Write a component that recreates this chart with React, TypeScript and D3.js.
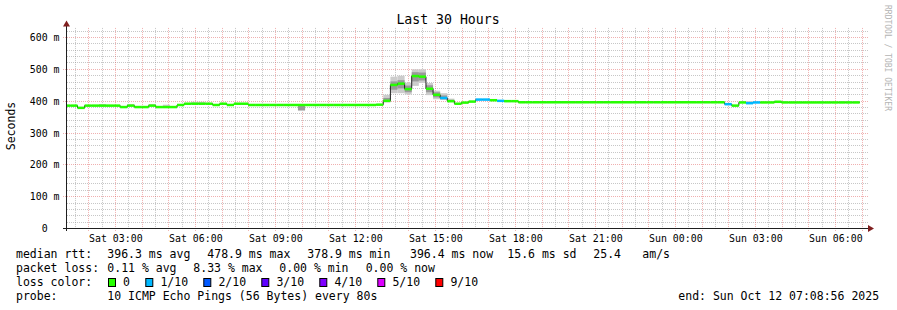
import React from "react";
import * as d3 from "d3";

const W = 897;
const H = 310;
const FONT = "'DejaVu Sans Mono', monospace";

// time frame
const startTime = new Date(2025, 9, 11, 1, 8, 56);
const endTime = new Date(2025, 9, 12, 7, 8, 56);
const stepStart = new Date(2025, 9, 11, 1, 2, 50);
const stepMinutes = 16;

// y axis
const yMax = 630;
const yMajorTicks = [0, 100, 200, 300, 400, 500, 600];
const yTickLabels = ["0  ", "100 m", "200 m", "300 m", "400 m", "500 m", "600 m"];

// median rtt per 16-minute step (ms)
const median = [
  386, 386, 379, 386, 386, 386, 386, 386, 381.5, 386,
  381.5, 381.5, 386, 381.5, 381.5, 381.5, 388, 392, 392, 392,
  392, 388, 392, 388, 392, 392, 388, 388, 388, 388,
  388, 388, 388, 388, 388, 388, 388, 388, 388, 388,
  388, 388, 388, 388, 389, 401, 451, 455, 438, 478.9,
  477, 439, 420, 410, 400, 392, 395.5, 398.7, 405, 405,
  403, 401, 400, 400, 396.5, 396.5, 396.5, 396.5, 396.5, 396.5,
  396.5, 396.5, 396.5, 396.5, 396.5, 396.5, 396.5, 396.5, 396.5, 396.5,
  396.5, 396.5, 396.5, 396.5, 396.5, 396.5, 396.5, 396.5, 396.5, 396.5,
  396.5, 396.5, 396.5, 390.5, 386, 396, 393.7, 396, 396, 396,
  398, 396, 396, 396, 396, 396, 396, 396, 396, 396,
  396, 396,
];

// packet loss (in tenths) for the steps that had loss
const lossSteps = [53, 58, 59, 61, 93, 96, 97];
const lossLevels = [1, 1, 1, 1, 1, 1, 1];

// smoke (ping spread) for steps where it is visible
const smokeSteps = [5, 9, 12, 14, 18, 19, 33, 45, 46, 47, 48, 49, 50, 51, 52, 53, 54, 96, 100, 101, 106, 109, 110, 111];
const smokeOuterLo = [386, 386, 386, 381, 392, 392, 369, 396, 425, 425, 421, 448, 457, 419, 406, 404, 397, 393, 398, 396, 396, 396, 396, 396];
const smokeOuterHi = [391, 391, 391, 389, 398, 398, 388, 420, 477, 480, 458, 500, 500, 457, 433, 425, 408, 400, 401, 399, 399, 399, 399, 399];
const smokeInnerLo = [386, 386, 386, 381, 392, 392, 372, 399, 436, 440, 428, 462, 465, 428, 412, 406, 399, 393, 398, 396, 396, 396, 396, 396];
const smokeInnerHi = [386, 386, 386, 381, 392, 392, 386, 410, 462, 466, 449, 491, 490, 450, 428, 418, 404, 393, 398, 396, 396, 396, 396, 396];

// legend
const lossColors = ["#26ff00", "#00b8ff", "#0059ff", "#5e00ff", "#7e00ff", "#dd00ff", "#ff0000"];
const lossLabels = ["0", "1/10", "2/10", "3/10", "4/10", "5/10", "9/10"];
const lossColorIndex = [0, 1, 2, 3, 4, 5, 6, 6, 6, 6, 6];

const rttRow = [
  ["median rtt:", 16],
  ["396.3 ms avg", 107.3],
  ["478.9 ms max", 207.3],
  ["378.9 ms min", 307.3],
  ["396.4 ms now", 410],
  ["15.6 ms sd", 507.3],
  ["25.4", 593.3],
  ["am/s", 642.3],
] as [string, number][];
const lossRow = [
  ["packet loss:", 16],
  ["0.11 % avg", 107.3],
  ["8.33 % max", 193.3],
  ["0.00 % min", 279.3],
  ["0.00 % now", 365.7],
] as [string, number][];
const probeRow = [
  ["probe:", 16],
  ["10 ICMP Echo Pings (56 Bytes) every 80s", 107.3],
  ["end: Sun Oct 12 07:08:56 2025", 678.3],
] as [string, number][];

const MGRID = "rgba(222,79,79,0.45)";
const GRID = "rgba(143,143,143,0.5)";
const AXIS = "#1f1f1f";
const ARROW = "#801f1f";

export default function App() {
  const x = d3.scaleTime().domain([startTime, endTime]).range([66, 866]);
  const y = d3.scaleLinear().domain([0, yMax]).range([228.5, 228.5 - yMax * 0.31833]);
  const top = y(yMax);

  const px = (v: number) => Math.floor(v) + 0.5;
  const py = (v: number) => Math.round(y(v) - 0.5) + 0.5;

  const stepT = (i: number) => d3.timeMinute.offset(stepStart, i * stepMinutes);

  const hours = d3.timeHour.every(1)!.range(startTime, endTime);
  const halfHours = d3.timeMinute.every(30)!.range(startTime, endTime).filter((d) => d.getMinutes() === 30);
  const labelTimes = d3.timeHour.every(3)!.range(startTime, endTime);
  const fmt = d3.timeFormat("%a %H:%M");

  const minorY = d3.range(20, yMax, 20).filter((v) => v % 100 !== 0);

  const lossOf = (i: number) => {
    const k = lossSteps.indexOf(i);
    return k >= 0 ? lossLevels[k] : 0;
  };

  const linePts: [Date, number][] = median.map((v, i) => [stepT(i), v]);
  linePts.push([stepT(median.length), median[median.length - 1]]);
  const stepLine = d3
    .line<[Date, number]>()
    .x((d) => x(d[0]))
    .y((d) => y(d[1]))
    .curve(d3.curveStepAfter)(linePts);

  // legend boxes positions
  const boxes: { x: number; lx: number }[] = [];
  let cx = 108.5;
  lossLabels.forEach((l) => {
    boxes.push({ x: cx, lx: cx + 14.6 });
    cx = cx + 14.6 + l.length * 6.9 + 15.8;
  });

  return (
    <svg width={W} height={H} style={{ display: "block", position: "absolute", left: 0, top: 0 }} fontFamily={FONT}>
      <rect x={0} y={0} width={W} height={H} fill="#ffffff" />
      <defs>
        <clipPath id="plot">
          <rect x={66} y={top} width={800} height={228.5 - top + 1} />
        </clipPath>
      </defs>

      {/* minor grid */}
      <g stroke={GRID} strokeWidth={1} strokeDasharray="1,1" fill="none">
        {minorY.map((v) => (
          <line key={"my" + v} x1={67} x2={868} y1={py(v)} y2={py(v)} />
        ))}
        {halfHours.map((t) => (
          <line key={"mx" + t.getTime()} x1={px(x(t))} x2={px(x(t))} y1={top} y2={230} />
        ))}
      </g>
      {/* major grid */}
      <g stroke={MGRID} strokeWidth={1} strokeDasharray="1,1" fill="none">
        {yMajorTicks.filter((v) => v > 0).map((v) => (
          <line key={"My" + v} x1={63} x2={869} y1={py(v)} y2={py(v)} />
        ))}
        {hours.map((t) => (
          <line key={"Mx" + t.getTime()} x1={px(x(t))} x2={px(x(t))} y1={top} y2={231} />
        ))}
      </g>

      <g clipPath="url(#plot)">
        {/* smoke */}
        {smokeSteps.map((s, k) => (
          <rect
            key={"so" + s}
            x={x(stepT(s))}
            width={x(stepT(s + 1)) - x(stepT(s))}
            y={y(smokeOuterHi[k])}
            height={y(smokeOuterLo[k]) - y(smokeOuterHi[k])}
            fill="#cccccc"
          />
        ))}
        {smokeSteps.map((s, k) =>
          smokeInnerHi[k] > smokeInnerLo[k] ? (
            <rect
              key={"si" + s}
              x={x(stepT(s))}
              width={x(stepT(s + 1)) - x(stepT(s))}
              y={y(smokeInnerHi[k])}
              height={y(smokeInnerLo[k]) - y(smokeInnerHi[k])}
              fill="#999999"
            />
          ) : null
        )}
        {/* median line */}
        <path d={stepLine || ""} stroke="#202020" strokeWidth={1} fill="none" />
        {median.map((v, i) => (
          <rect
            key={"m" + i}
            x={x(stepT(i))}
            width={x(stepT(i + 1)) - x(stepT(i))}
            y={y(v) - 1.25}
            height={2.5}
            fill={lossColors[lossColorIndex[lossOf(i)]]}
          />
        ))}
      </g>

      {/* axes */}
      <g stroke={AXIS} strokeWidth={1}>
        <line x1={63} x2={868} y1={228.5} y2={228.5} />
        <line x1={66.5} x2={66.5} y1={231} y2={26} />
      </g>
      <path d="M66.5,20.5 L63,26.5 L70,26.5 Z" fill={ARROW} />
      <path d="M874,228.5 L868,225 L868,232 Z" fill={ARROW} />

      {/* y labels */}
      <g fontSize={9.9} fill="#000">
        {yMajorTicks.map((v, i) => (
          <text key={"yl" + v} x={59.5} y={py(v) + 3.5} textAnchor="end" xmlSpace="preserve" style={{ whiteSpace: "pre" }}>
            {yTickLabels[i]}
          </text>
        ))}
      </g>
      {/* x labels */}
      <g fontSize={9.9} fill="#000">
        {labelTimes.map((t) => (
          <text key={"xl" + t.getTime()} x={x(t) + 0.5} y={241.5} textAnchor="middle">
            {fmt(t)}
          </text>
        ))}
      </g>

      {/* title */}
      <text x={448} y={24} fontSize={13.2} textAnchor="middle" fill="#000">
        Last 30 Hours
      </text>
      {/* unit label */}
      <text transform="translate(14.5,126) rotate(-90)" fontSize={11.5} textAnchor="middle" fill="#000">
        Seconds
      </text>
      {/* watermark */}
      <text transform="translate(885,5) rotate(90)" fontSize={8} fill="#b4b4b4">
        RRDTOOL / TOBI OETIKER
      </text>

      {/* legend */}
      <g fontSize={11.5} fill="#000" style={{ whiteSpace: "pre" }}>
        {rttRow.map(([t, xx]) => (
          <text key={"r" + t} x={xx} y={257.5}>{t}</text>
        ))}
        {lossRow.map(([t, xx]) => (
          <text key={"l" + t} x={xx} y={271.5}>{t}</text>
        ))}
        <text x={16} y={285.5}>loss color:</text>
        {boxes.map((b, i) => (
          <g key={"b" + i}>
            <rect x={b.x} y={278.5} width={7} height={8} fill={lossColors[i]} stroke="#000" strokeWidth={1} />
            <text x={b.lx} y={285.5}>{lossLabels[i]}</text>
          </g>
        ))}
        {probeRow.map(([t, xx]) => (
          <text key={"p" + t} x={xx} y={299.5}>{t}</text>
        ))}
      </g>
    </svg>
  );
}
